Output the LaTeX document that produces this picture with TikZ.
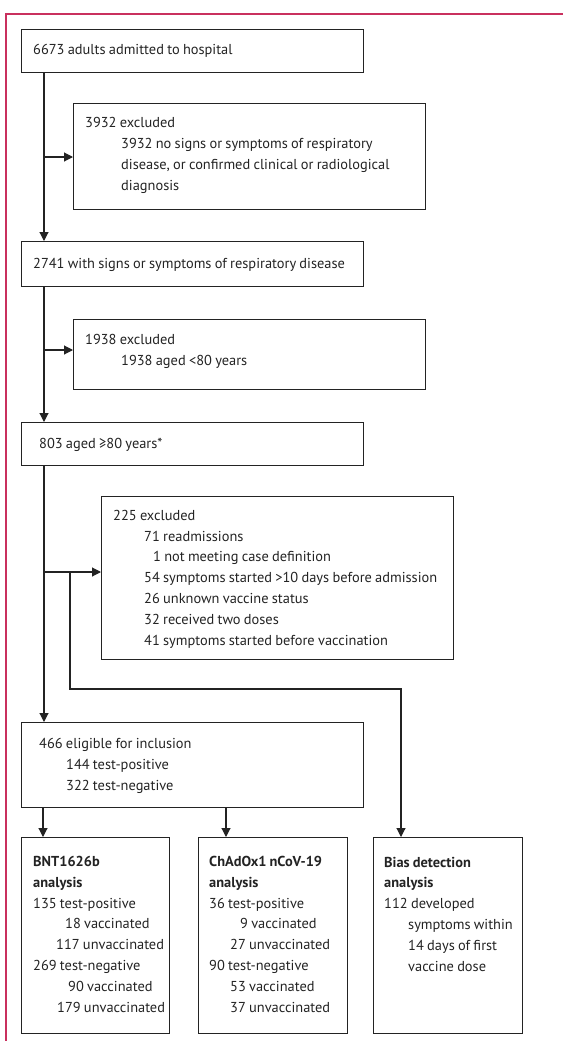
\documentclass[tikz,border=0pt]{standalone}
\usepackage{fontspec}
\setmainfont[WordSpace=0.85]{PT Sans}
\usetikzlibrary{arrows.meta}
\definecolor{framecol}{RGB}{201,48,94}
\definecolor{ink}{RGB}{35,35,35}
\begin{document}
\begin{tikzpicture}[x=1pt,y=-1pt,
  box/.style={draw=ink, line width=1.1pt, rectangle, inner sep=0pt, anchor=north west},
  txt/.style={anchor=base west, inner sep=0pt, align=left, font=\fontsize{14.4}{20.8}\selectfont, text=ink},
  arr/.style={draw=ink, line width=1.1pt, -{Triangle[length=9pt,width=9pt]}},
  framestyle/.style={draw=framecol, line width=1.3pt}]
\useasboundingbox (0,0) rectangle (563,1041);
\draw[framestyle] (6,1041) -- (6,14) -- (563,14);

\node[box, minimum width=342pt, minimum height=43pt] (b1) at (21,29) {};
\node[box, minimum width=352pt, minimum height=106pt] (b2) at (73,103) {};
\node[box, minimum width=342pt, minimum height=45pt] (b3) at (21,241) {};
\node[box, minimum width=352pt, minimum height=70pt] (b4) at (73,319) {};
\node[box, minimum width=342pt, minimum height=43pt] (b5) at (21,422) {};
\node[box, minimum width=352pt, minimum height=163pt] (b6) at (101,496) {};
\node[box, minimum width=342pt, minimum height=85pt] (b7) at (21,722) {};
\node[box, minimum width=148pt, minimum height=196pt] (b8) at (21,837) {};
\node[box, minimum width=149pt, minimum height=196pt] (b9) at (198,837) {};
\node[box, minimum width=149pt, minimum height=196pt] (b10) at (373,837) {};

% multi-line nodes: base anchor = baseline of the last line
\node[txt] (t1) at (33,55) {6673 adults admitted to hospital};
\node[txt] (t2) at (85,190) {3932 excluded\\\hspace*{36pt}3932 no signs or symptoms of respiratory\\\hspace*{36pt}disease, or confirmed clinical or radiological\\\hspace*{36pt}diagnosis};
\node[txt] (t3) at (33,268) {2741 with signs or symptoms of respiratory disease};
\node[txt] (t4) at (85,365) {1938 excluded\\\hspace*{36pt}1938 aged <80 years};
\node[txt] (t5) at (39,448) {803 aged ≥80 years*};
\node[txt] (t6) at (113,645) {225 excluded\\\hspace*{31pt}71 readmissions\\\hspace*{40pt}1 not meeting case definition\\\hspace*{31pt}54 symptoms started >10 days before admission\\\hspace*{31pt}26 unknown vaccine status\\\hspace*{31pt}32 received two doses\\\hspace*{31pt}41 symptoms started before vaccination};
\node[txt] (t7) at (39,790) {466 eligible for inclusion\\\hspace*{27pt}144 test-positive\\\hspace*{27pt}322 test-negative};
\node[txt] (t8) at (33,1012) {\textbf{BNT1626b}\\\textbf{analysis}\\135 test-positive\\\hspace*{32pt}18 vaccinated\\\hspace*{23pt}117 unvaccinated\\269 test-negative\\\hspace*{35pt}90 vaccinated\\\hspace*{24pt}179 unvaccinated};
\node[txt] (t9) at (209,1012) {\textbf{ChAdOx1 nCoV-19}\\\textbf{analysis}\\36 test-positive\\\hspace*{31pt}9 vaccinated\\\hspace*{21pt}27 unvaccinated\\90 test-negative\\\hspace*{21pt}53 vaccinated\\\hspace*{21pt}37 unvaccinated};
\node[txt] (t10) at (384,971) {\textbf{Bias detection}\\\textbf{analysis}\\112 developed\\\hspace*{24pt}symptoms within\\\hspace*{24pt}14 days of first\\\hspace*{24pt}vaccine dose};

\coordinate (tr) at (44,0);
\coordinate (j1) at (44,157);
\coordinate (j2) at (44,350);
\coordinate (j3) at (44,572);
\coordinate (j4) at (70,572);
\coordinate (c1) at (70,689);
\coordinate (c2) at (401,689);
\coordinate (k1) at (43,0);
\coordinate (k2) at (226,0);

\draw[arr] (b1.south -| tr) -- (b3.north -| tr);
\draw[arr] (j1) -- (j1 -| b2.west);
\draw[arr] (b3.south -| tr) -- (b5.north -| tr);
\draw[arr] (j2) -- (j2 -| b4.west);
\draw[arr] (b5.south -| tr) -- (b7.north -| tr);
\draw[arr] (j3) -- (j3 -| b6.west);
\draw[arr] (j4) -- (c1) -- (c2) -- (c2 |- b10.north);
\draw[arr] (b7.south -| k1) -- (b8.north -| k1);
\draw[arr] (b7.south -| k2) -- (b9.north -| k2);
\end{tikzpicture}
\end{document}
